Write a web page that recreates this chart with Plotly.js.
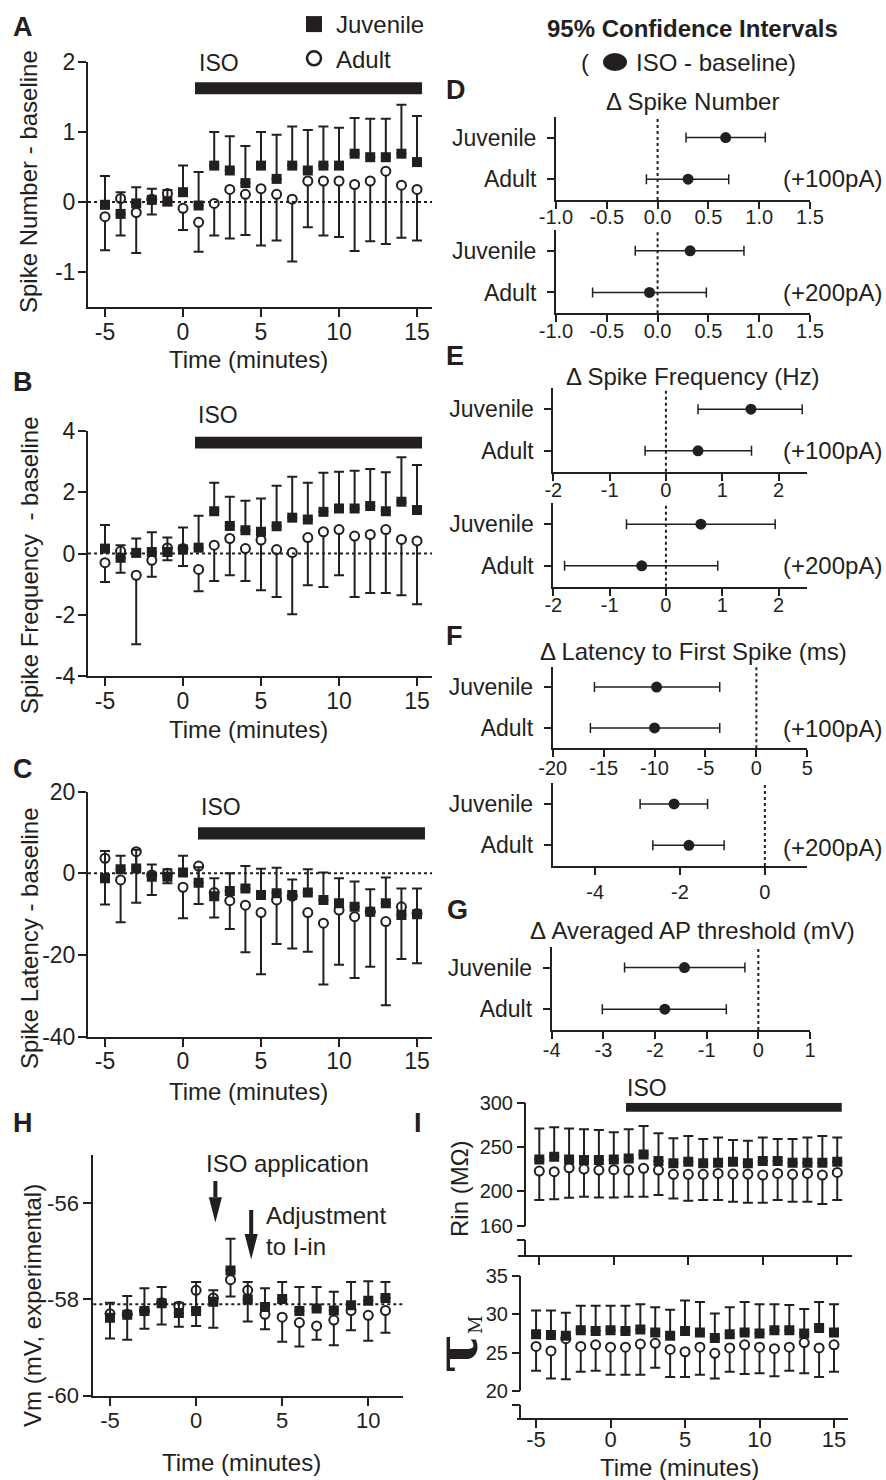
<!DOCTYPE html>
<html><head><meta charset="utf-8">
<script src="https://cdn.plot.ly/plotly-3.0.1.min.js"></script>
<style>html,body{margin:0;padding:0;background:#fff}#chart{width:886px;height:1480px}</style>
</head><body><div id="chart"></div>
<script>
// ---------------- DATA ----------------
const timeMin = [-5,-4,-3,-2,-1,0,1,2,3,4,5,6,7,8,9,10,11,12,13,14,15];
const timeVm  = [-5,-4,-3,-2,-1,0,1,2,3,4,5,6,7,8,9,10,11];
const groups  = ['Juvenile','Adult'];

// A: Spike Number - baseline
const numJuvMean  = [-0.04,-0.17,-0.02,0.03,0.01,0.14,-0.05,0.52,0.45,0.27,0.52,0.33,0.52,0.45,0.52,0.52,0.69,0.64,0.64,0.69,0.57];
const numJuvUpper = [0.37,0.14,0.21,0.19,0.17,0.52,0.43,1.00,0.94,0.80,1.00,0.96,1.08,1.03,1.08,1.06,1.20,1.19,1.19,1.39,1.23];
const numAdMean   = [-0.21,0.05,-0.15,0.04,0.12,-0.09,-0.29,-0.02,0.18,0.11,0.19,0.11,0.04,0.30,0.30,0.30,0.25,0.30,0.44,0.24,0.18];
const numAdLower  = [-0.69,-0.48,-0.73,-0.18,-0.05,-0.40,-0.71,-0.48,-0.52,-0.47,-0.62,-0.55,-0.85,-0.36,-0.48,-0.50,-0.70,-0.56,-0.60,-0.51,-0.55];

// B: Spike Frequency - baseline
const frqJuvMean  = [0.16,-0.14,0.02,0.05,0.05,0.13,0.19,1.38,0.90,0.76,0.71,0.89,1.17,1.11,1.36,1.47,1.47,1.55,1.38,1.69,1.42];
const frqJuvUpper = [0.93,0.27,0.49,0.69,0.52,0.85,1.23,2.31,1.85,1.72,1.80,2.21,2.51,2.31,2.64,2.67,2.70,2.76,2.65,3.14,2.89];
const frqAdMean   = [-0.30,0.08,-0.71,-0.22,0.18,0.16,-0.52,0.27,0.49,0.16,0.44,0.13,0.03,0.52,0.71,0.78,0.57,0.62,0.78,0.46,0.41];
const frqAdLower  = [-0.93,-0.63,-2.96,-0.76,-0.22,-0.41,-1.23,-0.90,-0.71,-0.90,-1.20,-1.42,-1.98,-1.04,-1.09,-0.71,-1.42,-1.29,-1.29,-1.36,-1.66];

// C: Spike Latency - baseline
const latJuvMean  = [-1.2,1.0,1.2,-0.8,-0.8,0.2,-2.3,-5.6,-4.3,-3.7,-5.3,-4.9,-5.3,-4.7,-6.5,-7.3,-8.2,-9.4,-7.3,-10.2,-10.0];
const latJuvUpper = [5.5,4.3,5.8,2.2,1.0,4.3,1.5,-1.2,0.0,1.8,1.1,1.4,-1.5,1.0,0.2,-1.2,-2.0,-3.9,-1.0,-3.7,-3.7];
const latAdMean   = [3.7,-1.6,5.3,-0.4,0.0,-3.4,1.8,-4.7,-6.7,-7.8,-9.6,-6.5,-5.6,-9.6,-12.2,-9.0,-10.6,-9.4,-11.8,-8.2,-9.8];
const latAdLower  = [-7.6,-12.0,-7.2,-5.3,-2.4,-11.0,-7.5,-10.8,-13.6,-19.3,-24.7,-17.3,-18.4,-19.2,-27.2,-22.4,-25.6,-22.9,-32.3,-21.0,-22.0];

// H: Vm (mV, experimental)
const vmJuvMean  = [-58.38,-58.32,-58.24,-58.08,-58.28,-58.24,-58.05,-57.40,-58.00,-58.16,-57.99,-58.24,-58.19,-58.23,-58.12,-58.03,-57.97];
const vmJuvUpper = [-58.07,-57.93,-57.77,-57.74,-58.07,-57.64,-57.81,-56.74,-57.64,-57.77,-57.64,-57.74,-57.74,-57.84,-57.64,-57.62,-57.64];
const vmAdMean   = [-58.30,-58.31,-58.24,-58.07,-58.14,-57.81,-57.97,-57.59,-57.81,-58.31,-58.37,-58.48,-58.55,-58.43,-58.23,-58.33,-58.23];
const vmAdLower  = [-58.81,-58.84,-58.61,-58.52,-58.57,-58.55,-58.59,-57.94,-58.46,-58.62,-58.88,-58.98,-58.84,-58.95,-58.64,-58.86,-58.69];
const vmBaseline = -58.1;

// I: Rin (MOhm) and tau_M
const rinJuvMean  = [235.6,238.6,235.6,234.8,234.8,235.6,236.7,241.3,233.7,231.1,233.0,231.1,231.8,233.0,231.1,233.7,233.7,231.8,231.8,231.8,233.0];
const rinJuvUpper = [270.8,272.0,270.8,269.7,268.9,266.3,269.7,273.5,265.2,259.5,262.1,258.7,260.6,257.6,256.8,260.6,258.7,258.7,260.6,262.1,260.6];
const rinAdMean   = [222.3,221.6,226.1,224.6,223.5,223.9,223.5,225.4,223.5,218.6,218.6,218.6,219.7,218.9,218.9,217.8,219.7,218.6,219.7,217.8,220.8];
const rinAdLower  = [189.4,190.2,192.0,193.2,192.4,192.4,193.2,193.2,195.1,191.3,188.6,189.4,189.4,187.5,186.4,186.4,189.4,187.5,187.5,184.8,189.4];
const tauJuvMean  = [27.4,27.3,27.2,27.9,27.8,27.9,27.8,28.0,27.6,27.2,27.8,27.6,26.9,27.4,27.6,27.5,27.9,27.9,27.5,28.2,27.6];
const tauJuvUpper = [30.5,30.5,30.2,31.1,31.1,31.1,31.1,31.3,30.9,30.6,31.8,31.6,30.1,30.9,31.6,31.3,31.3,31.2,30.7,31.6,31.3];
const tauAdMean   = [25.8,25.2,26.8,25.8,26.0,25.7,25.7,26.1,26.2,25.4,25.1,25.7,24.9,25.6,26.0,25.7,25.5,25.7,26.3,25.6,26.0];
const tauAdLower  = [22.6,21.6,21.5,22.5,22.6,22.1,22.1,22.1,23.0,21.8,21.8,22.1,21.6,22.5,22.2,22.3,21.9,22.6,22.3,21.8,22.5];

// ISO application periods (minutes) as drawn
const isoBarA = [0.77, 15.32];
const isoBarC = [0.96, 15.51];
const isoBarI = [0.82, 15.30];

// D-G: 95% confidence intervals (ISO - baseline), order = groups
const spkNum100Mean = [0.67, 0.30],  spkNum100Lo = [0.28, -0.11], spkNum100Hi = [1.06, 0.70];
const spkNum200Mean = [0.32, -0.08], spkNum200Lo = [-0.22, -0.64], spkNum200Hi = [0.85, 0.48];
const spkFrq100Mean = [1.51, 0.57],  spkFrq100Lo = [0.57, -0.37], spkFrq100Hi = [2.42, 1.52];
const spkFrq200Mean = [0.62, -0.43], spkFrq200Lo = [-0.70, -1.80], spkFrq200Hi = [1.94, 0.92];
const lat100Mean = [-9.8, -10.0],   lat100Lo = [-15.9, -16.3], lat100Hi = [-3.6, -3.6];
const lat200Mean = [-2.14, -1.79],  lat200Lo = [-2.94, -2.64], lat200Hi = [-1.35, -0.96];
const apThrMean  = [-1.43, -1.81],  apThrLo  = [-2.59, -3.02], apThrHi  = [-0.26, -0.62];

// tick values
const ticksTime = [-5,0,5,10,15];
const ticksTimeVm = [-5,0,5,10];
const ticksNum = [-1,0,1,2];
const ticksFrq = [-4,-2,0,2,4];
const ticksLat = [-40,-20,0,20];
const ticksVm = [-60,-58,-56];
const ticksRin = [160,200,250,300];
const ticksTau = [20,25,30,35];
const ticksD = [-1,-0.5,0,0.5,1,1.5];
const ticksE = [-2,-1,0,1,2];
const ticksF100 = [-20,-15,-10,-5,0,5];
const ticksF200 = [-4,-2,0];
const ticksG = [-4,-3,-2,-1,0,1];

// ---------------- HELPERS ----------------
const W = 886, H = 1480;
const fx = p => p / W;
const fy = p => 1 - p / H;
const INK = '#231f20';
const FONT = '"Liberation Sans", Arial, Helvetica, sans-serif';

const traces = [];
const shapes = [];
const annotations = [];

// ticks with a plain hyphen minus, as in the original figure
function tk(vals, dec) {
  return {tickvals: vals, ticktext: vals.map(v => dec ? v.toFixed(dec) : String(v))};
}

function timeCourse(x, jm, ju, am, al, xa, ya) {
  traces.push({type:'scatter', mode:'markers', x:x, y:am, xaxis:xa, yaxis:ya, showlegend:false,
    marker:{symbol:'circle', size:9, color:'#ffffff', line:{color:INK, width:2}},
    error_y:{type:'data', symmetric:false, array:am.map(() => 0), arrayminus:am.map((v,i) => v - al[i]),
             color:INK, thickness:2, width:5}});
  traces.push({type:'scatter', mode:'markers', x:x, y:jm, xaxis:xa, yaxis:ya, showlegend:false,
    marker:{symbol:'square', size:10, color:INK},
    error_y:{type:'data', symmetric:false, array:jm.map((v,i) => ju[i] - v), arrayminus:jm.map(() => 0),
             color:INK, thickness:2, width:5}});
}
function ciTrace(mean, lo, hi, xa, ya) {
  traces.push({type:'scatter', mode:'markers', x:mean, y:groups, xaxis:xa, yaxis:ya, showlegend:false,
    marker:{symbol:'circle', size:11, color:INK},
    error_x:{type:'data', symmetric:false, array:mean.map((v,i) => hi[i] - v), arrayminus:mean.map((v,i) => v - lo[i]),
             color:INK, thickness:1.5, width:5}});
}
function txt(text, x, y, o) {
  annotations.push(Object.assign({xref:'paper', yref:'paper', x:fx(x), y:fy(y), text:text, showarrow:false,
    xanchor:'center', yanchor:'middle', font:{size:24, color:INK, family:FONT}}, o || {}));
}
function hDotted(xa, ya, yv) {
  shapes.push({type:'line', xref:xa + ' domain', yref:ya, x0:0, x1:1, y0:yv, y1:yv, line:{color:INK, width:2, dash:'dot'}});
}
function vDotted(xa, ya, xv) {
  shapes.push({type:'line', xref:xa, yref:ya + ' domain', x0:xv, x1:xv, y0:0, y1:1, line:{color:INK, width:2, dash:'dot'}});
}
function isoBar(xa, ya, span, y0, y1) {
  shapes.push({type:'rect', xref:xa, yref:ya, x0:span[0], x1:span[1], y0:y0, y1:y1, fillcolor:INK, line:{width:0}});
}
function base(extra) {
  return Object.assign({showline:true, linewidth:2, linecolor:INK, ticks:'outside', ticklen:8, tickwidth:2, tickcolor:INK,
    showgrid:false, zeroline:false, fixedrange:true, tickfont:{size:23, color:INK, family:FONT}}, extra);
}
const dx = (a,b) => [fx(a), fx(b)];
const dy = (top,bottom) => [fy(bottom), fy(top)];

// ---------------- TRACES ----------------
timeCourse(timeMin, numJuvMean, numJuvUpper, numAdMean, numAdLower, 'x', 'y');
timeCourse(timeMin, frqJuvMean, frqJuvUpper, frqAdMean, frqAdLower, 'x2', 'y2');
timeCourse(timeMin, latJuvMean, latJuvUpper, latAdMean, latAdLower, 'x3', 'y3');
timeCourse(timeVm, vmJuvMean, vmJuvUpper, vmAdMean, vmAdLower, 'x4', 'y4');
timeCourse(timeMin, rinJuvMean, rinJuvUpper, rinAdMean, rinAdLower, 'x5', 'y5');
timeCourse(timeMin, tauJuvMean, tauJuvUpper, tauAdMean, tauAdLower, 'x6', 'y6');

ciTrace(spkNum100Mean, spkNum100Lo, spkNum100Hi, 'x7', 'y7');
ciTrace(spkNum200Mean, spkNum200Lo, spkNum200Hi, 'x8', 'y8');
ciTrace(spkFrq100Mean, spkFrq100Lo, spkFrq100Hi, 'x9', 'y9');
ciTrace(spkFrq200Mean, spkFrq200Lo, spkFrq200Hi, 'x10', 'y10');
ciTrace(lat100Mean, lat100Lo, lat100Hi, 'x11', 'y11');
ciTrace(lat200Mean, lat200Lo, lat200Hi, 'x12', 'y12');
ciTrace(apThrMean, apThrLo, apThrHi, 'x13', 'y13');

// legend entries (panel A)
traces.push({type:'scatter', mode:'markers', x:[null], y:[null], xaxis:'x', yaxis:'y', name:'Juvenile', showlegend:true,
  marker:{symbol:'square', size:16, color:INK}});
traces.push({type:'scatter', mode:'markers', x:[null], y:[null], xaxis:'x', yaxis:'y', name:'Adult', showlegend:true,
  marker:{symbol:'circle', size:14, color:'#ffffff', line:{color:INK, width:2.5}}});

// ---------------- SHAPES ----------------
hDotted('x', 'y', 0);
hDotted('x2', 'y2', 0);
hDotted('x3', 'y3', 0);
hDotted('x4', 'y4', vmBaseline);
['7','8','9','10','11','12','13'].forEach(n => vDotted('x' + n, 'y' + n, 0));

isoBar('x', 'y', isoBarA, 1.54, 1.71);
isoBar('x2', 'y2', isoBarA, 3.43, 3.81);
isoBar('x3', 'y3', isoBarC, 8.3, 11.3);
isoBar('x5', 'y5', isoBarI, 289.8, 300);

// broken y axes for panel I
const axL = {color:INK, width:2};
shapes.push({type:'line', xref:'paper', yref:'y5', x0:fx(525), x1:fx(525), y0:160, y1:300, line:axL});
shapes.push({type:'line', xref:'paper', yref:'y5', x0:fx(525), x1:fx(525), y0:127, y1:144, line:axL});
shapes.push({type:'line', xref:'paper', yref:'y5', x0:fx(517), x1:fx(525), y0:144, y1:144, line:axL});
shapes.push({type:'line', xref:'paper', yref:'y6', x0:fx(520), x1:fx(520), y0:20, y1:35, line:axL});
shapes.push({type:'line', xref:'paper', yref:'y6', x0:fx(520), x1:fx(520), y0:16.4, y1:18.14, line:axL});
shapes.push({type:'line', xref:'paper', yref:'y6', x0:fx(512), x1:fx(520), y0:18.14, y1:18.14, line:axL});

// arrows in panel H (x position, tail, head base, tip)
const arrowX    = [1.12, 3.2];
const arrowTail = [-55.54, -56.14];
const arrowBase = [-55.88, -56.64];
const arrowTip  = [-56.40, -57.17];
arrowX.forEach((ax, i) => {
  shapes.push({type:'line', xref:'x4', yref:'y4', x0:ax, x1:ax, y0:arrowTail[i], y1:arrowBase[i], line:{color:INK, width:4}});
  const hw = 0.38;
  shapes.push({type:'path', xref:'x4', yref:'y4',
    path:'M' + (ax - hw) + ',' + arrowBase[i] + ' L' + (ax + hw) + ',' + arrowBase[i] + ' L' + ax + ',' + arrowTip[i] + ' Z',
    fillcolor:INK, line:{width:0}});
});
// filled-dot glyph in the CI header
shapes.push({type:'circle', xref:'paper', yref:'paper', x0:fx(603), x1:fx(627), y0:fy(71), y1:fy(53), fillcolor:INK, line:{width:0}});

// ---------------- ANNOTATIONS ----------------
const bold = {size:27, color:INK, family:FONT, weight:'bold'};
[['A',23,27],['B',22.5,382],['C',22.5,769],['H',22.5,1123],['I',418,1123],['D',456,90],['E',455,356],['F',454,636],['G',457,910]]
  .forEach(l => txt('<b>' + l[0] + '</b>', l[1], l[2], {font:bold}));

// left column axis titles
txt('Spike Number - baseline', 29, 182, {textangle:-90});
txt('Spike Frequency  - baseline', 29, 565, {textangle:-90});
txt('Spike Latency - baseline', 29, 938, {textangle:-90});
txt('Vm (mV, experimental)', 32, 1306, {textangle:-90});
txt('Time (minutes)', 248, 360);
txt('Time (minutes)', 248, 730);
txt('Time (minutes)', 248, 1091);
txt('Time (minutes)', 241, 1462);
txt('Time (minutes)', 679, 1467);
txt('Rin (MΩ)', 459, 1188, {textangle:-90});
txt('<span style="font-size:58px;font-weight:bold">τ</span><sub><span style="font-size:18px">M</span></sub>', 457, 1345,
    {textangle:-90, font:{size:24, color:INK, family:'"DejaVu Serif", serif'}});

// ISO labels
const isoFont = {size:23, color:INK, family:FONT};
txt('ISO', 197, 63, {xanchor:'left', font:isoFont});
txt('ISO', 196, 415, {xanchor:'left', font:isoFont});
txt('ISO', 199, 807, {xanchor:'left', font:isoFont});
txt('ISO', 625, 1088, {xanchor:'left', font:isoFont});
txt('ISO application', 204, 1163, {xanchor:'left'});
txt('Adjustment<br>to I-in', 264, 1231, {xanchor:'left', align:'left'});

// right column
txt('<b>95% Confidence Intervals</b>', 692, 28, {font:{size:24, color:INK, family:FONT}});
txt('(', 585, 62);
txt('ISO - baseline)', 634, 62, {xanchor:'left'});
txt('Δ Spike Number', 692, 102);
txt('Δ Spike Frequency (Hz)', 692, 376);
txt('Δ Latency to First Spike (ms)', 693, 652);
txt('Δ Averaged AP threshold (mV)', 692, 930);
[['(+100pA)',178],['(+200pA)',292],['(+100pA)',450],['(+200pA)',565],['(+100pA)',728],['(+200pA)',847]]
  .forEach(t => txt(t[0], 884, t[1], {xanchor:'right'}));

// ---------------- LAYOUT ----------------
const tcX = Object.assign({domain:dx(88,432), range:[-6.09,15.96], ticklabelstandoff:-5}, tk(ticksTime));
const ciY = n => ({type:'category', categoryorder:'array', categoryarray:['Adult','Juvenile'], range:[-0.5,1.5],
                   anchor:'x' + n, ticklen:7, ticklabelstandoff:6, tickfont:{size:23, color:INK, family:FONT}});
const ciTickFont = {size:20, color:INK, family:FONT};
const ciX = (n, dom, range, ticks, dec, so) => base(Object.assign({domain:dom, range:range, anchor:'y' + n, ticklen:7,
                   ticklabelstandoff:so, tickfont:ciTickFont}, tk(ticks, dec)));

const layout = {
  width:W, height:H, margin:{l:0, r:0, t:0, b:0}, paper_bgcolor:'#fff', plot_bgcolor:'rgba(0,0,0,0)',
  font:{family:FONT, color:INK, size:23},
  showlegend:true,
  legend:{x:fx(292), y:fy(2), xanchor:'left', yanchor:'top', bgcolor:'rgba(0,0,0,0)', borderwidth:0,
          font:{size:24, color:INK, family:FONT}, tracegroupgap:0, itemwidth:34},
  xaxis: base(Object.assign({anchor:'y'}, tcX)),
  yaxis: base(Object.assign({domain:dy(62,307), range:[-1.5,2], anchor:'x', ticklabelstandoff:-2}, tk(ticksNum))),
  xaxis2: base(Object.assign({anchor:'y2'}, tcX)),
  yaxis2: base(Object.assign({domain:dy(431,676), range:[-4,4], anchor:'x2', ticklabelstandoff:-2}, tk(ticksFrq))),
  xaxis3: base(Object.assign({anchor:'y3'}, tcX)),
  yaxis3: base(Object.assign({domain:dy(791.7,1036.7), range:[-40,20], anchor:'x3', ticklabelstandoff:-2}, tk(ticksLat))),
  xaxis4: base(Object.assign({domain:dx(93.3,402.7), range:[-5.97,12], anchor:'y4', ticklabelstandoff:-4,
                tickfont:{size:22, color:INK, family:FONT}}, tk(ticksTimeVm))),
  yaxis4: base(Object.assign({domain:dy(1155,1395.7), range:[-60,-55], anchor:'x4',
                tickfont:{size:22, color:INK, family:FONT}}, tk(ticksVm))),
  xaxis5: base(Object.assign({domain:dx(518,851.7), range:[-6.43,15.97], showticklabels:false, anchor:'y5'}, tk(ticksTime))),
  yaxis5: base(Object.assign({domain:dy(1102.7,1255), range:[127,300], showline:false, anchor:'free', position:fx(525),
                tickfont:{size:20, color:INK, family:FONT}}, tk(ticksRin))),
  xaxis6: base(Object.assign({domain:dx(516.7,848.3), range:[-6.3,15.96], anchor:'y6', ticklabelstandoff:-8,
                tickfont:{size:22, color:INK, family:FONT}}, tk(ticksTime))),
  yaxis6: base(Object.assign({domain:dy(1276,1418.3), range:[16.4,35], showline:false, anchor:'free', position:fx(520),
                tickfont:{size:20, color:INK, family:FONT}}, tk(ticksTau))),
  xaxis7: ciX('7', dx(556,810), [-1,1.5], ticksD, 1, -9),
  yaxis7: base(Object.assign({domain:dy(116.7,200)}, ciY('7'))),
  xaxis8: ciX('8', dx(556,810), [-1,1.5], ticksD, 1, -8),
  yaxis8: base(Object.assign({domain:dy(230,313.3)}, ciY('8'))),
  xaxis9: ciX('9', dx(553.3,806.7), [-2,2.5], ticksE, 0, -8),
  yaxis9: base(Object.assign({domain:dy(388.3,471.7)}, ciY('9'))),
  xaxis10: ciX('10', dx(553.3,806.7), [-2,2.5], ticksE, 0, -8),
  yaxis10: base(Object.assign({domain:dy(503.3,586.7)}, ciY('10'))),
  xaxis11: ciX('11', dx(552.7,807.3), [-20,5], ticksF100, 0, -6),
  yaxis11: base(Object.assign({domain:dy(666.7,748.3)}, ciY('11'))),
  xaxis12: ciX('12', dx(552.7,807.3), [-5,1], ticksF200, 0, 0),
  yaxis12: base(Object.assign({domain:dy(783.3,866)}, ciY('12'))),
  xaxis13: ciX('13', dx(551.7,810), [-4,1], ticksG, 0, -6),
  yaxis13: base(Object.assign({domain:dy(946.7,1030)}, ciY('13'))),
  shapes:shapes,
  annotations:annotations
};

Plotly.newPlot('chart', traces, layout, {displayModeBar:false, staticPlot:true});
</script></body></html>
